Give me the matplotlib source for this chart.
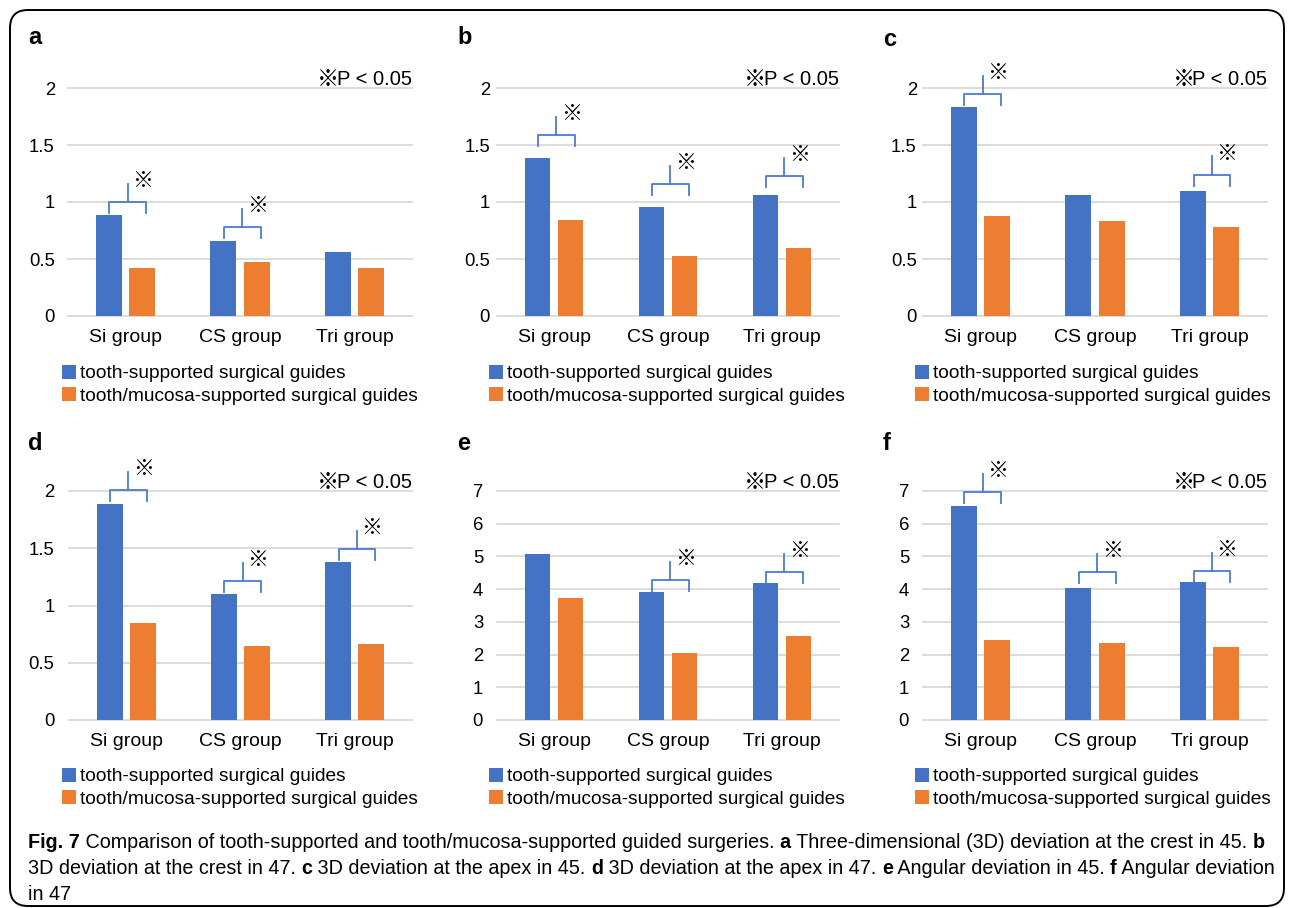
import matplotlib
matplotlib.use('Agg')
import matplotlib.pyplot as plt
from matplotlib.patches import FancyBboxPatch
from matplotlib.transforms import IdentityTransform
import numpy as np

W, H, DPI = 1292, 908, 100

# ---- data ---------------------------------------------------------------
groups = ['Si group', 'CS group', 'Tri group']
series_names = ['tooth-supported surgical guides',
                'tooth/mucosa-supported surgical guides']
panel_labels = ['a', 'b', 'c', 'd', 'e', 'f']

tooth_a = [0.89, 0.66, 0.56]
mucosa_a = [0.42, 0.47, 0.42]
tooth_b = [1.39, 0.96, 1.06]
mucosa_b = [0.84, 0.525, 0.60]
tooth_c = [1.83, 1.06, 1.10]
mucosa_c = [0.88, 0.83, 0.78]
tooth_d = [1.89, 1.10, 1.38]
mucosa_d = [0.85, 0.65, 0.66]
tooth_e = [5.07, 3.92, 4.19]
mucosa_e = [3.72, 2.04, 2.57]
tooth_f = [6.55, 4.03, 4.21]
mucosa_f = [2.46, 2.34, 2.23]

mm_ticks = [0, 0.5, 1, 1.5, 2]
mm_ticklabels = ['0', '0.5', '1', '1.5', '2']
deg_ticks = [0, 1, 2, 3, 4, 5, 6, 7]
deg_ticklabels = [str(t) for t in deg_ticks]

# significance brackets: (group index, bracket level)
sig_a = [(0, 1.00), (1, 0.78)]
sig_b = [(0, 1.585), (1, 1.156), (2, 1.23)]
sig_c = [(0, 1.944), (2, 1.24)]
sig_d = [(0, 2.005), (1, 1.21), (2, 1.49)]
sig_e = [(1, 4.27), (2, 4.52)]
sig_f = [(0, 6.97), (1, 4.51), (2, 4.56)]

star = '※'
sig_note = 'P < 0.05'

caption_lines = [
    [('Fig. 7', True),
     (' Comparison of tooth-supported and tooth/mucosa-supported guided surgeries. ', False),
     ('a', True), (' Three-dimensional (3D) deviation at the crest in 45. ', False),
     ('b', True)],
    [('3D deviation at the crest in 47. ', False), ('c', True),
     (' 3D deviation at the apex in 45. ', False), ('d', True),
     (' 3D deviation at the apex in 47. ', False), ('e', True),
     (' Angular deviation in 45. ', False), ('f', True),
     (' Angular deviation', False)],
    [('in 47', False)],
]

# ---- style / layout -----------------------------------------------------
BLUE = '#4472C4'
ORANGE = '#ED7D31'
BRACKET = '#4A7BD0'
GRID = '#D9D9D9'
SANS = ['Liberation Sans', 'DejaVu Sans']
STAR_FONT = ['Noto Sans CJK JP', 'DejaVu Sans']
CAPTION_FONT = ['Liberation Sans Narrow', 'Liberation Sans', 'DejaVu Sans']

plt.rcParams['font.family'] = SANS

panels = [
    # label, tooth, mucosa, ymax, ticks, ticklabels, sig, axes box px (x0, y0, x1, y1), ytick pad
    ('a', tooth_a, mucosa_a, 2, mm_ticks, mm_ticklabels, sig_a, (68, 88, 412, 316), 9.5),
    ('b', tooth_b, mucosa_b, 2, mm_ticks, mm_ticklabels, sig_b, (497, 88, 839, 316), 5),
    ('c', tooth_c, mucosa_c, 2, mm_ticks, mm_ticklabels, sig_c, (923, 88, 1267, 316), 4.5),
    ('d', tooth_d, mucosa_d, 2, mm_ticks, mm_ticklabels, sig_d, (69, 491, 412, 720), 10.5),
    ('e', tooth_e, mucosa_e, 7, deg_ticks, deg_ticklabels, sig_e, (497, 491, 839, 720), 10),
    ('f', tooth_f, mucosa_f, 7, deg_ticks, deg_ticklabels, sig_f, (923, 491, 1267, 720), 10),
]
label_pos = {'a': (28, 38), 'b': (457, 38), 'c': (883, 40),
             'd': (28, 443), 'e': (457, 443), 'f': (883, 443)}
legend_pos = {'a': (62, 365), 'b': (489, 365), 'c': (915, 365),
              'd': (62, 768), 'e': (489, 768), 'f': (915, 768)}

fig = plt.figure(figsize=(W / DPI, H / DPI), dpi=DPI)
renderer = fig.canvas.get_renderer()


def fig_rect(box):
    x0, y0, x1, y1 = box
    return [x0 / W, 1 - y1 / H, (x1 - x0) / W, (y1 - y0) / H]


def draw_panel(label, tooth, mucosa, ymax, ticks, ticklabels, sig, box, ypad):
    ax = fig.add_axes(fig_rect(box))
    x = np.arange(len(groups))
    width, off = 0.227, 0.145
    b1 = ax.bar(x - off, tooth, width, color=BLUE, zorder=2)
    b2 = ax.bar(x + off, mucosa, width, color=ORANGE, zorder=2)
    ax.set_xlim(-0.5, len(groups) - 0.5)
    ax.set_ylim(0, ymax)
    for t in ticks:
        ax.axhline(t, color=GRID, lw=1.3, zorder=0, clip_on=False)
    ax.set_yticks(ticks, ticklabels)
    ax.set_xticks(x, groups)
    ax.tick_params(axis='y', length=0, labelsize=13.3, pad=ypad)
    ax.tick_params(axis='x', length=0, labelsize=14, pad=9)
    for s in ax.spines.values():
        s.set_visible(False)

    # significance brackets
    leg, stem = 0.048 * ymax, 0.08 * ymax
    for g, lvl in sig:
        cx, half = g + 0.02, 0.16
        ax.plot([cx - half, cx - half, cx + half, cx + half],
                [lvl - leg, lvl, lvl, lvl - leg],
                color=BRACKET, lw=1.3, clip_on=False, zorder=3)
        ax.plot([cx, cx], [lvl, lvl + stem], color=BRACKET, lw=1.3,
                clip_on=False, zorder=3)
        ax.text(cx + 0.13, lvl + stem + 0.012 * ymax, star, ha='center',
                va='center', fontsize=15, family=STAR_FONT)

    # "※P < 0.05" note, right aligned above the top gridline
    note = ax.annotate(sig_note, xy=(1, 1), xycoords='axes fraction',
                       xytext=(0, 2.5), textcoords='offset points',
                       ha='right', va='baseline', fontsize=14.5, family=SANS)
    ax.annotate(star, xy=(0, 0.5), xycoords=note, xytext=(1.8, 0),
                textcoords='offset points', ha='right', va='center',
                fontsize=16, family=STAR_FONT)

    lx, ly = label_pos[label]
    fig.text(lx / W, 1 - ly / H, label, fontsize=17, weight='bold',
             ha='left', va='center')

    gx, gy = legend_pos[label]
    ax.legend([b1, b2], series_names, loc='upper left',
              bbox_to_anchor=(gx / W, 1 - gy / H), bbox_transform=fig.transFigure,
              frameon=False, fontsize=13.75, handlelength=0.72, handleheight=0.72,
              handletextpad=0.22, labelspacing=0.25, borderpad=0, borderaxespad=0)
    return ax


for p in panels:
    draw_panel(*p)

# rounded border around the whole figure
border = FancyBboxPatch((10, H - 906), 1274, 896,
                        boxstyle='round,pad=0,rounding_size=18',
                        transform=IdentityTransform(), fill=False,
                        edgecolor='black', lw=1.4)
fig.add_artist(border)

# caption, written segment by segment so bold and regular mix
line_y = [843, 869, 895]
for segs, y in zip(caption_lines, line_y):
    x = 28
    for txt, bold in segs:
        t = fig.text(x / W, 1 - y / H, txt, fontsize=14.25,
                     weight='bold' if bold else 'normal',
                     family=CAPTION_FONT, ha='left', va='center')
        x = t.get_window_extent(renderer).x1

fig.savefig('out.png', dpi=DPI)
